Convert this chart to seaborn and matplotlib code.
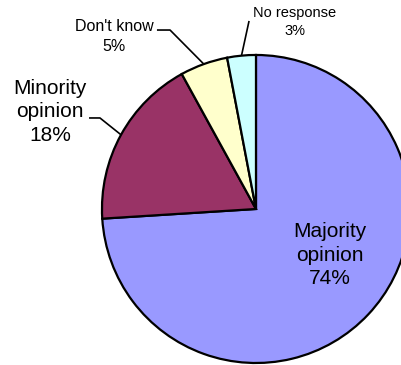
import numpy as np
import matplotlib
matplotlib.use("Agg")
import matplotlib.pyplot as plt
import seaborn as sns

# Survey answers
categories = ["Majority\nopinion", "Minority\nopinion", "Don't know", "No response"]
shares = [74, 18, 5, 3]
colors = ["#9999FF", "#993366", "#FFFFCC", "#CCFFFF"]

sns.set_theme(style="white")
plt.rcParams["font.family"] = ["Liberation Sans", "DejaVu Sans"]

fig = plt.figure(figsize=(4.02, 3.65), dpi=100)
ax = fig.add_axes([0, 0, 1, 1])

wedges, _ = ax.pie(
    shares,
    colors=colors,
    startangle=90,
    counterclock=False,
    radius=1.0,
    wedgeprops=dict(edgecolor="black", linewidth=1.6),
)

ax.set_xlim(-1.662, 0.948)
ax.set_ylim(-1.013, 1.357)
ax.set_aspect("equal")
ax.axis("off")

# label layout: text centre, font size, line spacing, leader path (elbow, end) or None
layout = [
    dict(text=(0.481, -0.299), size=15, ls=1.28, leader=None),
    dict(text=(-1.338, 0.630), size=15, ls=1.28, leader=[(-1.013, 0.591), (-1.084, 0.591)]),
    dict(text=(-0.922, 1.120), size=11.5, ls=1.42, leader=[(-0.558, 1.162), (-0.643, 1.162)]),
    dict(text=(0.253, 1.214), size=10.5, ls=1.3, leader=[(-0.045, 1.221)]),
]

for w, name, val, lay in zip(wedges, categories, shares, layout):
    ax.text(*lay["text"], f"{name}\n{val}%", ha="center", va="center",
            fontsize=lay["size"], linespacing=lay["ls"], color="black")
    if lay["leader"]:
        mid = np.deg2rad((w.theta1 + w.theta2) / 2)
        pts = [(np.cos(mid), np.sin(mid))] + lay["leader"]
        xs, ys = zip(*pts)
        ax.plot(xs, ys, color="black", linewidth=1.2, solid_capstyle="butt")

fig.savefig("out.png", dpi=100)
